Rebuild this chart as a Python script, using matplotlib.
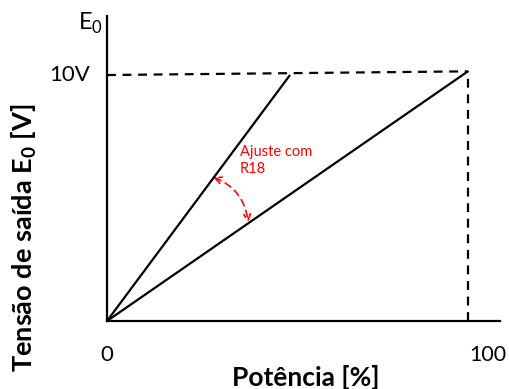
import matplotlib.pyplot as plt
from matplotlib.patches import FancyArrowPatch

plt.rcParams['font.family'] = ['Lato', 'DejaVu Sans']
plt.rcParams['mathtext.fontset'] = 'custom'
plt.rcParams['mathtext.rm'] = 'Lato'
plt.rcParams['mathtext.bf'] = 'Lato:bold'

# data (power % vs output volts)
steep_x = [0, 50.7]
steep_y = [0, 10.0]
shallow_x = [0, 100]
shallow_y = [0, 10.15]
ref_level = [10.0, 10.15]
x_tick_labels = ['0', '100']

W, H = 509, 389
fig = plt.figure(figsize=(W / 100, H / 100), dpi=100)
# origin sits at pixel (107, 321)
ax = fig.add_axes([107 / W, (H - 321) / H, (500 - 107) / W, (321 - 16) / H])
ax.set_xlim(0, 108.9)
ax.set_ylim(0, 12.4)
for s in ['top', 'right']:
    ax.spines[s].set_visible(False)
for s in ['left', 'bottom']:
    ax.spines[s].set_linewidth(1.6)
ax.set_xticks([])
ax.set_yticks([])

ax.plot(steep_x, steep_y, color='black', lw=1.6, solid_capstyle='butt')
ax.plot(shallow_x, shallow_y, color='black', lw=1.6, solid_capstyle='butt')

# dashed reference lines
ax.plot([0, 100], ref_level, color='black', lw=1.6, linestyle=(0, (4, 3)))
ax.plot([100, 100], [0, ref_level[1]], color='black', lw=1.6, linestyle=(0, (4, 3)))

# adjustment arrow
arr = FancyArrowPatch((29.4, 5.85), (39.1, 4.0), arrowstyle='<->', mutation_scale=12,
                      connectionstyle='arc3,rad=-0.3', color='red', lw=1.2,
                      linestyle=(0, (4, 3)), shrinkA=0, shrinkB=0)
ax.add_patch(arr)
ax.text(36.8, 7.15, 'Ajuste com\nR18', color='red', fontsize=10.5, va='top',
        ha='left', linespacing=1.3)

# tick labels
ax.text(0, -1.4, x_tick_labels[0], ha='center', va='center', fontsize=16, clip_on=False)
ax.text(105.4, -1.4, x_tick_labels[1], ha='center', va='center', fontsize=15.5, clip_on=False)
ax.text(-4.7, 10.0, '10V', ha='right', va='center', fontsize=16, clip_on=False)
ax.text(-1.2, 12.1, 'E$_0$', ha='right', va='center', fontsize=17, clip_on=False)

ax.text(55, -2.3, 'Potência [%]', ha='center', va='center', fontsize=19,
        fontweight='bold', clip_on=False)
ax.text(-23.0, 3.4, 'Tensão de saída $\\mathbf{E_0}$ [V]', ha='center', va='center',
        fontsize=19.5, fontweight='bold', rotation=90, clip_on=False)

fig.savefig('out.png', dpi=100)
